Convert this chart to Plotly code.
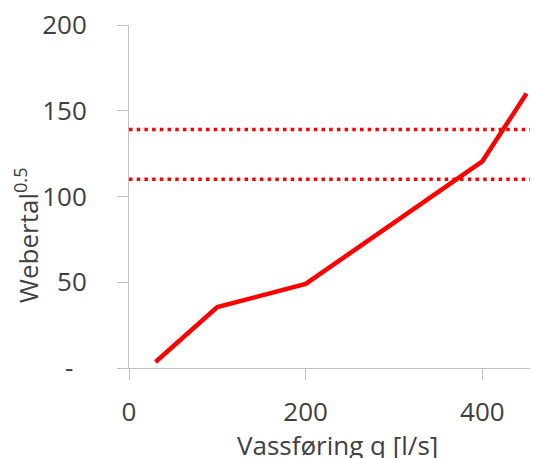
import plotly.graph_objects as go

# Data
q_values = [30, 100, 200, 400, 450]
weber_values = [3.5, 35.5, 49, 120.5, 160]
threshold_levels = [110, 139]
threshold_x = [0, 500]

y_tickvals = [0, 50, 100, 150, 200]
y_ticktext = ["-\u00a0\u00a0", "50", "100", "150", "200"]
x_tickvals = [0, 200, 400]
x_ticktext = ["0", "200", "400"]

FONT = "Open Sans"
TXT = "#404040"
AX = "#bfbfbf"
FS = 26

fig = go.Figure()
for lvl in threshold_levels:
    fig.add_trace(go.Scatter(
        x=threshold_x, y=[lvl, lvl], mode="lines",
        line=dict(color="#ff0000", width=3.5, dash="3.5px,4.2px"),
        hoverinfo="skip", showlegend=False))
fig.add_trace(go.Scatter(
    x=q_values, y=weber_values, mode="lines",
    line=dict(color="#ff0000", width=4.5),
    cliponaxis=False, showlegend=False))

# page body has an 8px margin, so the figure is 530x450 placed at (8,8)
fig.update_layout(
    width=530, height=450,
    margin=dict(l=121, r=0, t=17, b=90, autoexpand=False),
    paper_bgcolor="white", plot_bgcolor="white",
    font=dict(family=FONT, size=FS, color=TXT),
    xaxis=dict(range=[0, 463], tickvals=x_tickvals, ticktext=x_ticktext,
               automargin=False, ticklabeloverflow="allow",
               showgrid=False, zeroline=False, showline=True,
               linecolor=AX, linewidth=1, ticks="outside", ticklen=11,
               tickcolor=AX, ticklabelstandoff=10,
               tickfont=dict(family=FONT, size=FS, color=TXT)),
    yaxis=dict(range=[0, 200], tickvals=y_tickvals, ticktext=y_ticktext,
               automargin=False, ticklabeloverflow="allow",
               showgrid=False, zeroline=False, showline=True,
               linecolor=AX, linewidth=1, ticks="outside", ticklen=11,
               tickcolor=AX, ticklabelstandoff=25,
               tickfont=dict(family=FONT, size=FS, color=TXT)),
    annotations=[
        dict(text="Vassføring q [l/s]", xref="paper", yref="paper",
             x=(337 - 129) / 409, y=-0.166, xanchor="center", yanchor="top",
             showarrow=False, font=dict(family=FONT, size=FS, color=TXT)),
        dict(text="Webertal<sup>0.5</sup>", xref="paper", yref="paper",
             x=-0.249, y=0.388, xanchor="center", yanchor="middle",
             textangle=-90, showarrow=False,
             font=dict(family=FONT, size=FS, color=TXT)),
    ],
)

fig.write_html("out.html")
